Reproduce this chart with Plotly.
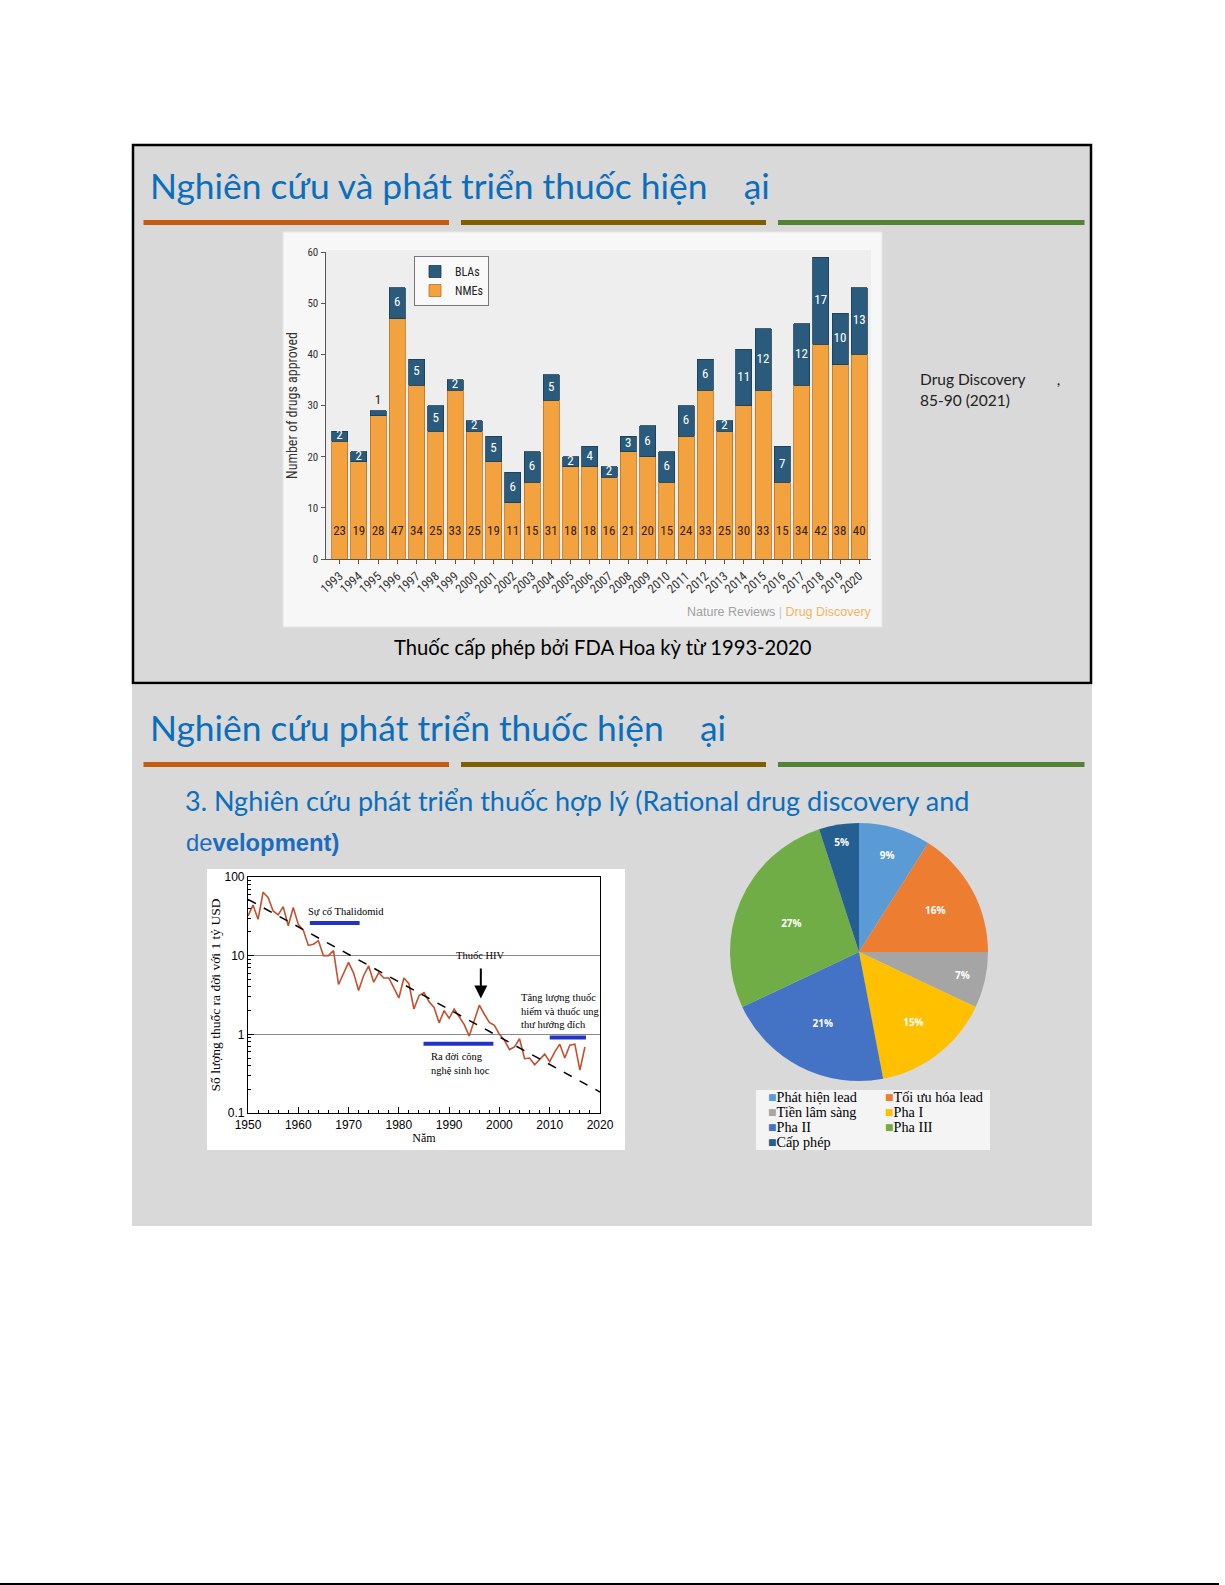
import numpy as np
import plotly.graph_objects as go

W, H = 1225, 1585


def px(x):
    return x / W


def py(y):
    return 1 - y / H


# ---------------- data ----------------
years = list(range(1993, 2021))
nmes = [23, 19, 28, 47, 34, 25, 33, 25, 19, 11, 15, 31, 18, 18, 16, 21, 20, 15,
        24, 33, 25, 30, 33, 15, 34, 42, 38, 40]
blas = [2, 2, 1, 6, 5, 5, 2, 2, 5, 6, 6, 5, 2, 4, 2, 3, 6, 6,
        6, 6, 2, 11, 12, 7, 12, 17, 10, 13]
bar_y_ticks = [0, 10, 20, 30, 40, 50, 60]

line_years = list(range(1950, 2018))
drugs_per_bn = [32, 44, 29, 64, 55, 37, 33, 42, 24, 41,
                25, 21, 13.5, 14, 15.5, 10, 10, 11.6, 4.3, 5.9,
                8.2, 6.0, 3.6, 5.6, 7.4, 4.6, 6.1, 5.2, 5.2, 3.9,
                2.9, 5.2, 4.4, 2.1, 3.1, 3.4, 2.6, 2.2, 1.4, 2.0,
                1.6, 2.1, 1.7, 1.33, 0.95, 1.5, 2.35, 1.8, 1.42, 1.3,
                1.0, 0.84, 0.64, 0.69, 0.88, 0.49, 0.5, 0.41, 0.48, 0.56,
                0.45, 0.6, 0.75, 0.5, 0.73, 0.75, 0.35, 0.69]
trend_years = [1950, 2020]
trend_vals = [52, 0.185]
event_starts = [1962.3, 1984.9, 2010.0]
event_ends = [1972.2, 1998.8, 2017.2]
event_levels = [26, 0.76, 0.91]
line_x_ticks = [1950, 1960, 1970, 1980, 1990, 2000, 2010, 2020]
line_y_ticks = [0.1, 1, 10, 100]
line_y_ticktext = ["0.1", "1", "10", "100"]

pie_labels = ["Phát hiện lead", "Tối ưu hóa lead", "Tiền lâm sàng", "Pha I",
              "Pha II", "Pha III", "Cấp phép"]
pie_values = [9, 16, 7, 15, 21, 27, 5]
pie_colors = ["#5b9bd5", "#ed7d31", "#a5a5a5", "#ffc000", "#4472c4",
              "#70ad47", "#255e91"]

TITLE_BLUE = "#0a6ebd"
SANS = "Lato, Open Sans, sans-serif"
SERIF = "Liberation Serif, Times New Roman, serif"
NARROW = "Liberation Sans Narrow, Roboto Condensed, Roboto, sans-serif"

fig = go.Figure()

# ---------------- bar chart ----------------
fig.add_trace(go.Bar(
    x=years, y=nmes, name="NMEs", width=0.83,
    marker=dict(color="#f2a23e", line=dict(color="#b8731f", width=0.8)),
    xaxis="x", yaxis="y", legend="legend", hoverinfo="skip"))
fig.add_trace(go.Bar(
    x=years, y=blas, name="BLAs", width=0.83,
    marker=dict(color="#2b5b7c", line=dict(color="#1c3c52", width=0.8)),
    xaxis="x", yaxis="y", legend="legend", hoverinfo="skip"))

fig.add_trace(go.Scatter(
    x=years, y=[5.3] * len(years), mode="text",
    text=[str(v) for v in nmes],
    textfont=dict(family=NARROW, size=13, color="#3b1e00"),
    xaxis="x", yaxis="y", showlegend=False, hoverinfo="skip"))

bla_y = [n + b / 2 if b >= 2 else n + b + 1.9 for n, b in zip(nmes, blas)]
bla_col = ["white" if b >= 2 else "#222" for b in blas]
fig.add_trace(go.Scatter(
    x=years, y=bla_y, mode="text",
    text=[str(v) for v in blas],
    textfont=dict(family=NARROW, size=13, color=bla_col),
    xaxis="x", yaxis="y", showlegend=False, hoverinfo="skip"))

# ---------------- line chart ----------------
fig.add_trace(go.Scatter(
    x=line_years, y=drugs_per_bn, mode="lines",
    line=dict(color="#c4502e", width=1.6),
    xaxis="x2", yaxis="y2", showlegend=False, hoverinfo="skip"))
fig.add_trace(go.Scatter(
    x=trend_years, y=trend_vals, mode="lines",
    line=dict(color="black", width=1.5, dash="dash"),
    xaxis="x2", yaxis="y2", showlegend=False, hoverinfo="skip"))
for s, e, lv in zip(event_starts, event_ends, event_levels):
    fig.add_trace(go.Scatter(
        x=[s, e], y=[lv, lv], mode="lines",
        line=dict(color="#2233cc", width=4),
        xaxis="x2", yaxis="y2", showlegend=False, hoverinfo="skip"))

# ---------------- pie ----------------
fig.add_trace(go.Pie(
    values=pie_values, labels=pie_labels, sort=False, direction="clockwise",
    rotation=0, marker=dict(colors=pie_colors, line=dict(width=0)),
    texttemplate="%{value}%", textposition="inside",
    insidetextorientation="horizontal",
    textfont=dict(family="Open Sans", size=10, color="white", weight="bold"),
    domain=dict(x=[px(730), px(988)], y=[py(1081), py(823)]),
    showlegend=False, hoverinfo="skip"))

# ---------------- shapes ----------------
shapes = []
shapes.append(dict(type="rect", xref="paper", yref="paper",
                   x0=px(133), x1=px(1091), y0=py(145), y1=py(683),
                   fillcolor="#d9d9d9", line=dict(color="black", width=2.5),
                   layer="below"))
shapes.append(dict(type="rect", xref="paper", yref="paper",
                   x0=px(132), x1=px(1092), y0=py(685), y1=py(1226),
                   fillcolor="#d9d9d9", line=dict(width=0), layer="below"))
for ty in (222.5, 764.5):
    for (a, b, c) in [(143.5, 449, "#c55a11"), (461, 766, "#7f6000"),
                      (778, 1084.5, "#548235")]:
        shapes.append(dict(type="rect", xref="paper", yref="paper",
                           x0=px(a), x1=px(b), y0=py(ty - 2.6), y1=py(ty + 2.6),
                           fillcolor=c, line=dict(width=0), layer="below"))
shapes.append(dict(type="rect", xref="paper", yref="paper",
                   x0=px(283), x1=px(882), y0=py(232), y1=py(627),
                   fillcolor="#f7f7f7", line=dict(color="#e6e6e6", width=1),
                   layer="below"))
shapes.append(dict(type="rect", xref="paper", yref="paper",
                   x0=px(325.5), x1=px(871), y0=py(559), y1=py(250),
                   fillcolor="#eeeeee", line=dict(width=0), layer="below"))
shapes.append(dict(type="rect", xref="paper", yref="paper",
                   x0=px(207), x1=px(625), y0=py(869), y1=py(1150),
                   fillcolor="white", line=dict(width=0), layer="below"))
shapes.append(dict(type="rect", xref="paper", yref="paper",
                   x0=px(756), x1=px(990), y0=py(1090), y1=py(1150),
                   fillcolor="#f4f4f4", line=dict(width=0), layer="below"))
shapes.append(dict(type="line", xref="paper", yref="paper",
                   x0=0, x1=px(1219), y0=py(1584), y1=py(1584),
                   line=dict(color="black", width=2)))

# ---------------- annotations ----------------
ann = []


def text(x, y, s, size, color="black", family=SANS, xanchor="left",
         yanchor="middle", align="left"):
    ann.append(dict(xref="paper", yref="paper", x=px(x), y=py(y), text=s,
                    showarrow=False, xanchor=xanchor, yanchor=yanchor,
                    align=align, font=dict(size=size, color=color,
                                           family=family)))


NB = "\u00a0"
text(148, 186, "Nghiên cứu và phát triển thuốc hiện" + NB * 4 + "ại", 35.4,
     TITLE_BLUE)
text(148, 728, "Nghiên cứu phát triển thuốc hiện" + NB * 4 + "ại", 35.4,
     TITLE_BLUE)
text(918, 379, "Drug Discovery" + NB * 8 + ",", 15.5, "#222")
text(918, 400, "85-90 (2021)", 15.5, "#222")
text(603, 647, "Thuốc cấp phép bởi FDA Hoa kỳ từ 1993-2020", 20.2, "black",
     xanchor="center")
text(183, 800, "3. Nghiên cứu phát triển thuốc hợp lý (Rational drug discovery and",
     27, TITLE_BLUE)
text(184, 842, "de<b>velopment)</b>", 23.8, "#1a6cc0",
     family="Liberation Sans, Arial, sans-serif")
text(874, 612,
     "<span style='color:#a0a0a0'>Nature Reviews</span>"
     "<span style='color:#c8c8c8'> | </span>"
     "<span style='color:#f2b562'>Drug Discovery</span>",
     12.5, "#999", family="Liberation Sans, Arial, sans-serif",
     xanchor="right")

leg_rows = [1097, 1112, 1127, 1142]
leg_cols = [766, 883]
for i, (lab, col) in enumerate(zip(pie_labels, pie_colors)):
    r, c = divmod(i, 2)
    ann.append(dict(xref="paper", yref="paper", x=px(leg_cols[c]),
                    y=py(leg_rows[r]), xanchor="left", yanchor="middle",
                    showarrow=False,
                    text=f"<span style='color:{col}'>■</span>{lab}",
                    font=dict(family=SERIF, size=14.2, color="black")))

ann.append(dict(xref="x2", yref="y2", x=1961.6, y=np.log10(36),
                text="Sự cố Thalidomid", showarrow=False, xanchor="left",
                font=dict(family=SERIF, size=10.5, color="black")))
ann.append(dict(xref="x2", yref="y2", x=1992.2, y=np.log10(0.43),
                text="Ra đời công<br>nghệ sinh học", showarrow=False,
                xanchor="center", align="left",
                font=dict(family=SERIF, size=10.5, color="black")))
ann.append(dict(xref="x2", yref="y2", x=2003.9, y=np.log10(2.0),
                text="Tăng lượng thuốc<br>hiếm và thuốc ung<br>thư hướng đích",
                showarrow=False, xanchor="left", align="left",
                font=dict(family=SERIF, size=10.5, color="black")))
ann.append(dict(xref="x2", yref="y2", x=1996.3, y=np.log10(10.0),
                text="Thuốc HIV", showarrow=False, xanchor="center",
                font=dict(family=SERIF, size=10.5, color="black")))
ann.append(dict(xref="x2", yref="y2", axref="x2", ayref="y2",
                x=1996.3, y=np.log10(2.85), ax=1996.3, ay=np.log10(7.2),
                text="", showarrow=True, arrowhead=2, arrowsize=1.3,
                arrowwidth=2, arrowcolor="black"))

fig.update_layout(
    template="none",
    width=W, height=H,
    margin=dict(l=0, r=0, t=0, b=0, pad=0, autoexpand=False),
    paper_bgcolor="white", plot_bgcolor="rgba(0,0,0,0)",
    barmode="stack", shapes=shapes, annotations=ann,
    legend=dict(x=px(414), y=py(256), xanchor="left", yanchor="top",
                bgcolor="#f9f9f9", bordercolor="#777", borderwidth=1,
                traceorder="reversed", font=dict(family=NARROW, size=12,
                                                 color="#222"),
                itemwidth=30, tracegroupgap=0),
    xaxis=dict(domain=[px(325.5), px(871)], anchor="y", automargin=False,
               range=[1992.27, 2020.61], tickmode="array", tickvals=years,
               ticktext=[str(y) for y in years], tickangle=-42,
               ticks="outside", ticklen=4, tickcolor="#555",
               showline=True, linecolor="#555", linewidth=1,
               showgrid=False, zeroline=False,
               tickfont=dict(family=NARROW, size=12.5, color="#333")),
    yaxis=dict(domain=[py(559), py(252)], anchor="x", range=[0, 60],
               automargin=False,
               tickvals=bar_y_ticks, ticks="outside", ticklen=4,
               tickcolor="#555", showline=True, linecolor="#555",
               linewidth=1, showgrid=False, zeroline=False,
               tickfont=dict(family=NARROW, size=11, color="#333"),
               title=dict(text="Number of drugs approved", standoff=6,
                          font=dict(family=NARROW, size=14, color="#333"))),
    xaxis2=dict(domain=[px(248), px(600)], anchor="y2", range=[1950, 2020],
                automargin=False,
                tickvals=line_x_ticks, ticks="inside", ticklen=6,
                tickcolor="black", showline=True, linecolor="black",
                linewidth=1.2, mirror=True, showgrid=False, zeroline=False,
                minor=dict(dtick=2, ticks="inside", ticklen=3,
                           tickcolor="black", showgrid=False),
                tickfont=dict(family="Liberation Sans, Arial", size=12,
                              color="black"),
                title=dict(text="Năm", standoff=2,
                           font=dict(family=SERIF, size=12, color="black"))),
    yaxis2=dict(domain=[py(1113), py(877)], anchor="x2", type="log",
                automargin=False,
                range=[-1, 2], tickvals=line_y_ticks,
                ticktext=line_y_ticktext, ticks="inside", ticklen=6,
                tickcolor="black", showline=True, linecolor="black",
                linewidth=1.2, mirror=True, showgrid=True,
                gridcolor="#8a8a8a", gridwidth=1, zeroline=False,
                minor=dict(tickvals=[k * 10.0 ** e for e in (-1, 0, 1)
                                     for k in range(2, 10)],
                           ticks="inside", ticklen=3, tickcolor="black",
                           showgrid=False),
                tickfont=dict(family="Liberation Sans, Arial", size=12,
                              color="black"),
                title=dict(text="Số lượng thuốc ra đời với 1 tỷ USD",
                           standoff=0,
                           font=dict(family=SERIF, size=13.5, color="black"))),
)

fig.write_html("out.html", config={"displayModeBar": False},
               post_script="document.body.style.margin='0';")
